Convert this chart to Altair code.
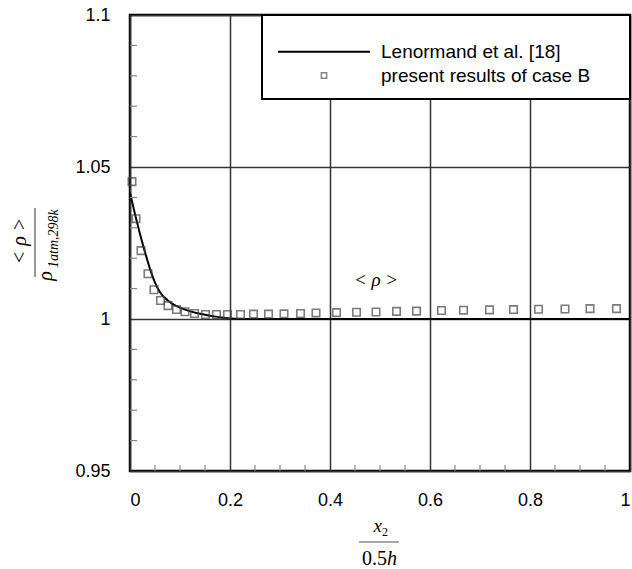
import altair as alt
import pandas as pd

# ---- data ----
lenormand_x = [0, 0.01, 0.02, 0.03, 0.04, 0.05, 0.06, 0.075, 0.09, 0.11, 0.13, 0.15, 0.175, 0.2, 0.25, 0.4, 0.6, 0.8, 1.0]
lenormand_y = [1.0415, 1.0345, 1.0280, 1.0220, 1.0165, 1.0120, 1.0088, 1.0062, 1.0045, 1.0031, 1.0021, 1.0014, 1.0007, 1.0002, 1.0, 1.0, 1.0, 1.0, 1.0]

caseB_x = [0.004, 0.012, 0.022, 0.036, 0.048, 0.061, 0.076, 0.093, 0.11, 0.129, 0.151, 0.173, 0.195,
           0.221, 0.247, 0.277, 0.308, 0.341, 0.372, 0.413, 0.453, 0.492, 0.533, 0.573, 0.623, 0.667,
           0.719, 0.767, 0.817, 0.87, 0.92, 0.973]
caseB_y = [1.0452, 1.0330, 1.0225, 1.0149, 1.0096, 1.0061, 1.0044, 1.0031, 1.0024, 1.0018, 1.0015, 1.0015, 1.0015,
           1.0015, 1.0016, 1.0016, 1.0017, 1.0018, 1.0020, 1.0021, 1.0022, 1.0023, 1.0025, 1.0026, 1.0028, 1.0029,
           1.0030, 1.0031, 1.0032, 1.0033, 1.0034, 1.0034]

x_ticks = [0, 0.2, 0.4, 0.6, 0.8, 1.0]
y_ticks = [0.95, 1.0, 1.05, 1.1]
x_minor = [0.05, 0.1, 0.15, 0.25, 0.3, 0.35, 0.45, 0.5, 0.55, 0.65, 0.7, 0.75, 0.85, 0.9, 0.95]
y_minor = [0.96, 0.97, 0.98, 0.99, 1.01, 1.02, 1.03, 1.04, 1.06, 1.07, 1.08, 1.09]

legend_labels = ["Lenormand et al. [18]", "present results of case B"]

df_line = pd.DataFrame({"x": lenormand_x, "y": lenormand_y})
df_pts = pd.DataFrame({"x": caseB_x, "y": caseB_y})
df_xminor = pd.DataFrame({"x": x_minor})
df_yminor = pd.DataFrame({"y": y_minor})
one = pd.DataFrame({"a": [0]})

SANS = "Liberation Sans"
SERIF = "Liberation Serif"

xscale = alt.Scale(domain=[0, 1], nice=False, zero=False)
yscale = alt.Scale(domain=[0.95, 1.1], nice=False, zero=False)

xaxis = alt.Axis(values=x_ticks, format="~g", title=None, grid=True, gridColor="#333333", gridWidth=1.5,
                 ticks=False, domain=False, labelFont=SANS, labelFontSize=18, labelColor="black",
                 labelPadding=20)
yaxis = alt.Axis(values=y_ticks, format="~g", title=None, grid=True, gridColor="#333333", gridWidth=1.5,
                 ticks=False, domain=False, labelFont=SANS, labelFontSize=18, labelColor="black",
                 labelPadding=20)

line = alt.Chart(df_line).mark_line(color="black", strokeWidth=2, interpolate="monotone").encode(
    x=alt.X("x:Q", scale=xscale, axis=xaxis),
    y=alt.Y("y:Q", scale=yscale, axis=yaxis),
)

pts = alt.Chart(df_pts).mark_square(filled=False, size=56, stroke="#444444", strokeWidth=1.6).encode(
    x=alt.X("x:Q", scale=xscale),
    y=alt.Y("y:Q", scale=yscale),
)

xminor = alt.Chart(df_xminor).mark_rule(color="#888888", strokeWidth=1.2).encode(
    x=alt.X("x:Q", scale=xscale), y=alt.value(456), y2=alt.value(450))
yminor = alt.Chart(df_yminor).mark_rule(color="#888888", strokeWidth=1.2).encode(
    y=alt.Y("y:Q", scale=yscale), x=alt.value(0), x2=alt.value(7))

# legend box
leg_box = alt.Chart(one).mark_rect(fill="white", stroke="black", strokeWidth=2).encode(
    x=alt.value(132), x2=alt.value(500), y=alt.value(0), y2=alt.value(84))
leg_line = alt.Chart(one).mark_rule(color="black", strokeWidth=2).encode(
    x=alt.value(148), x2=alt.value(240), y=alt.value(36.7))
leg_pt = alt.Chart(one).mark_square(filled=False, size=28, stroke="#555555", strokeWidth=1.5).encode(
    x=alt.value(194), y=alt.value(60.5))
leg_t1 = alt.Chart(one).mark_text(align="left", baseline="middle", font=SANS, fontSize=19, color="black").encode(
    x=alt.value(251), y=alt.value(36.7), text=alt.value(legend_labels[0]))
leg_t2 = alt.Chart(one).mark_text(align="left", baseline="middle", font=SANS, fontSize=19, color="black").encode(
    x=alt.value(251), y=alt.value(60.5), text=alt.value(legend_labels[1]))

# in-plot annotation
annot = alt.Chart(one).mark_text(align="center", baseline="middle", font=SERIF, fontSize=19,
                                 fontStyle="italic", color="black").encode(
    x=alt.value(246), y=alt.value(265), text=alt.value("< ρ >"))

# y-axis title (fraction, rotated)
y_num = alt.Chart(one).mark_text(angle=270, align="center", baseline="middle", font=SERIF, fontSize=20,
                                 fontStyle="italic", color="black").encode(
    x=alt.value(-110), y=alt.value(226), text=alt.value("< ρ >"))
y_bar = alt.Chart(one).mark_rule(color="#555555", strokeWidth=1.2).encode(
    x=alt.value(-95), y=alt.value(193), y2=alt.value(262))
y_rho = alt.Chart(one).mark_text(angle=270, align="center", baseline="alphabetic", font=SERIF, fontSize=20,
                                 fontStyle="italic", color="black").encode(
    x=alt.value(-78), y=alt.value(261), text=alt.value("ρ"))
y_sub = alt.Chart(one).mark_text(angle=270, align="left", baseline="alphabetic", font=SERIF, fontSize=14,
                                 fontStyle="italic", color="black").encode(
    x=alt.value(-72), y=alt.value(253), text=alt.value("1atm,298k"))

# x-axis title (fraction)
x_x = alt.Chart(one).mark_text(align="right", baseline="alphabetic", font=SERIF, fontSize=19,
                               fontStyle="italic", color="black").encode(
    x=alt.value(252), y=alt.value(517), text=alt.value("x"))
x_2 = alt.Chart(one).mark_text(align="left", baseline="alphabetic", font=SERIF, fontSize=12,
                               color="black").encode(
    x=alt.value(252), y=alt.value(521), text=alt.value("2"))
x_bar = alt.Chart(one).mark_rule(color="#555555", strokeWidth=1.2).encode(
    x=alt.value(229), x2=alt.value(269), y=alt.value(527))
x_den = alt.Chart(one).mark_text(align="right", baseline="alphabetic", font=SERIF, fontSize=20,
                                 color="black").encode(
    x=alt.value(257), y=alt.value(550), text=alt.value("0.5"))
x_h = alt.Chart(one).mark_text(align="left", baseline="alphabetic", font=SERIF, fontSize=20,
                               fontStyle="italic", color="black").encode(
    x=alt.value(257), y=alt.value(550), text=alt.value("h"))

chart = alt.layer(
    line, pts, xminor, yminor, annot,
    leg_box, leg_line, leg_pt, leg_t1, leg_t2,
    y_num, y_bar, y_rho, y_sub, x_x, x_2, x_bar, x_den, x_h,
).properties(
    width=500, height=456,
    padding={"left": 130, "top": 15, "right": 2, "bottom": 98},
    autosize=alt.AutoSizeParams(type="none"),
    background="white",
).configure_view(stroke="black", strokeWidth=2.5)

chart.save("out.html", embed_options={"renderer": "svg", "actions": False})
